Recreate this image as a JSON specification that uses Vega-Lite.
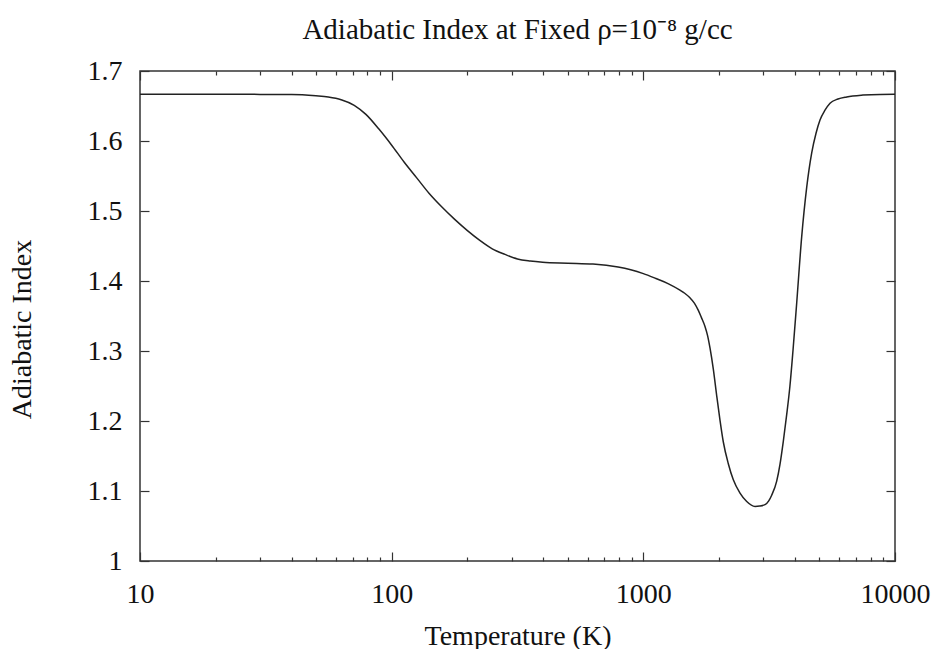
{
  "$schema": "https://vega.github.io/schema/vega-lite/v6.json",
  "width": 755,
  "height": 490,
  "autosize": "none",
  "padding": {"left": 140, "top": 71, "right": 42, "bottom": 88},
  "background": "white",
  "config": {
    "font": "Liberation Serif",
    "view": {"stroke": "#333333", "strokeWidth": 1.5},
    "axis": {"grid": false, "domain": false, "tickColor": "#333333", "tickWidth": 1.2, "labelFont": "Liberation Serif", "titleFont": "Liberation Serif", "labelFontSize": 28, "titleFontSize": 28, "labelColor": "#111111", "titleColor": "#111111", "titleFontWeight": "normal"}
  },
  "title": {"text": "Adiabatic Index at Fixed ρ=10⁻⁸ g/cc", "font": "Liberation Serif", "fontSize": 29, "fontWeight": "normal", "color": "#111111", "offset": 12, "anchor": "middle"},
  "data": {"values": [
    {"T": 10, "g": 1.6667}, {"T": 20, "g": 1.6667}, {"T": 30, "g": 1.6666}, {"T": 40, "g": 1.6664},
    {"T": 50, "g": 1.6645}, {"T": 56, "g": 1.6628}, {"T": 63, "g": 1.659}, {"T": 71, "g": 1.651},
    {"T": 79, "g": 1.638}, {"T": 89, "g": 1.617}, {"T": 100, "g": 1.594}, {"T": 112, "g": 1.570},
    {"T": 126, "g": 1.547}, {"T": 141, "g": 1.525}, {"T": 158, "g": 1.506}, {"T": 178, "g": 1.488},
    {"T": 200, "g": 1.472}, {"T": 224, "g": 1.458}, {"T": 251, "g": 1.446}, {"T": 282, "g": 1.438},
    {"T": 316, "g": 1.4315}, {"T": 355, "g": 1.4285}, {"T": 398, "g": 1.4268}, {"T": 501, "g": 1.4255},
    {"T": 631, "g": 1.4243}, {"T": 794, "g": 1.4200}, {"T": 891, "g": 1.4160}, {"T": 1000, "g": 1.4105},
    {"T": 1122, "g": 1.4035}, {"T": 1259, "g": 1.3960}, {"T": 1398, "g": 1.387}, {"T": 1460, "g": 1.3825},
    {"T": 1532, "g": 1.376}, {"T": 1595, "g": 1.3685}, {"T": 1654, "g": 1.358}, {"T": 1700, "g": 1.348},
    {"T": 1758, "g": 1.335}, {"T": 1800, "g": 1.322}, {"T": 1841, "g": 1.304}, {"T": 1897, "g": 1.274},
    {"T": 1957, "g": 1.236}, {"T": 2017, "g": 1.201}, {"T": 2079, "g": 1.170}, {"T": 2176, "g": 1.139},
    {"T": 2278, "g": 1.116}, {"T": 2422, "g": 1.097}, {"T": 2575, "g": 1.085}, {"T": 2778, "g": 1.078},
    {"T": 2900, "g": 1.0785}, {"T": 3044, "g": 1.0805}, {"T": 3150, "g": 1.086}, {"T": 3236, "g": 1.094},
    {"T": 3388, "g": 1.114}, {"T": 3491, "g": 1.138},
    {"T": 3599, "g": 1.171}, {"T": 3712, "g": 1.209}, {"T": 3824, "g": 1.250}, {"T": 3931, "g": 1.300},
    {"T": 4069, "g": 1.369}, {"T": 4258, "g": 1.463}, {"T": 4459, "g": 1.534}, {"T": 4667, "g": 1.583},
    {"T": 4855, "g": 1.611}, {"T": 5035, "g": 1.630}, {"T": 5270, "g": 1.644}, {"T": 5518, "g": 1.654},
    {"T": 5935, "g": 1.660}, {"T": 6427, "g": 1.663}, {"T": 7461, "g": 1.6656}, {"T": 8719, "g": 1.6666},
    {"T": 10000, "g": 1.6667}
  ]},
  "resolve": {"axis": {"x": "independent", "y": "independent"}},
  "layer": [
    {
      "mark": {"type": "line", "color": "#222222", "strokeWidth": 1.5, "interpolate": "monotone"},
      "encoding": {
        "x": {"field": "T", "type": "quantitative", "scale": {"type": "log", "domain": [10, 10000], "nice": false},
              "axis": {"orient": "bottom", "values": [10, 100, 1000, 10000], "format": "d", "tickSize": -9, "labelPadding": 28, "title": "Temperature (K)", "titlePadding": 14, "labelFlush": false}},
        "y": {"field": "g", "type": "quantitative", "scale": {"domain": [1, 1.7], "nice": false, "zero": false},
              "axis": {"orient": "left", "values": [1, 1.1, 1.2, 1.3, 1.4, 1.5, 1.6, 1.7], "format": ".1~f", "tickSize": -9, "labelPadding": 27, "title": "Adiabatic Index", "titlePadding": 51, "titleY": 258, "labelFlush": false}}
      }
    },
    {
      "mark": {"type": "line", "opacity": 0},
      "encoding": {
        "x": {"field": "T", "type": "quantitative", "axis": {"orient": "top", "values": [10, 100, 1000, 10000], "labels": false, "tickSize": -9, "title": null}},
        "y": {"field": "g", "type": "quantitative", "axis": {"orient": "right", "values": [1, 1.1, 1.2, 1.3, 1.4, 1.5, 1.6, 1.7], "labels": false, "tickSize": -9, "title": null}}
      }
    },
    {
      "mark": {"type": "line", "opacity": 0},
      "encoding": {
        "x": {"field": "T", "type": "quantitative", "axis": {"orient": "bottom", "values": [20, 30, 40, 50, 60, 70, 80, 90, 200, 300, 400, 500, 600, 700, 800, 900, 2000, 3000, 4000, 5000, 6000, 7000, 8000, 9000], "labels": false, "tickSize": -4, "title": null}},
        "y": {"field": "g", "type": "quantitative", "axis": null}
      }
    },
    {
      "mark": {"type": "line", "opacity": 0},
      "encoding": {
        "x": {"field": "T", "type": "quantitative", "axis": {"orient": "top", "values": [20, 30, 40, 50, 60, 70, 80, 90, 200, 300, 400, 500, 600, 700, 800, 900, 2000, 3000, 4000, 5000, 6000, 7000, 8000, 9000], "labels": false, "tickSize": -4, "title": null}},
        "y": {"field": "g", "type": "quantitative", "axis": null}
      }
    }
  ]
}
